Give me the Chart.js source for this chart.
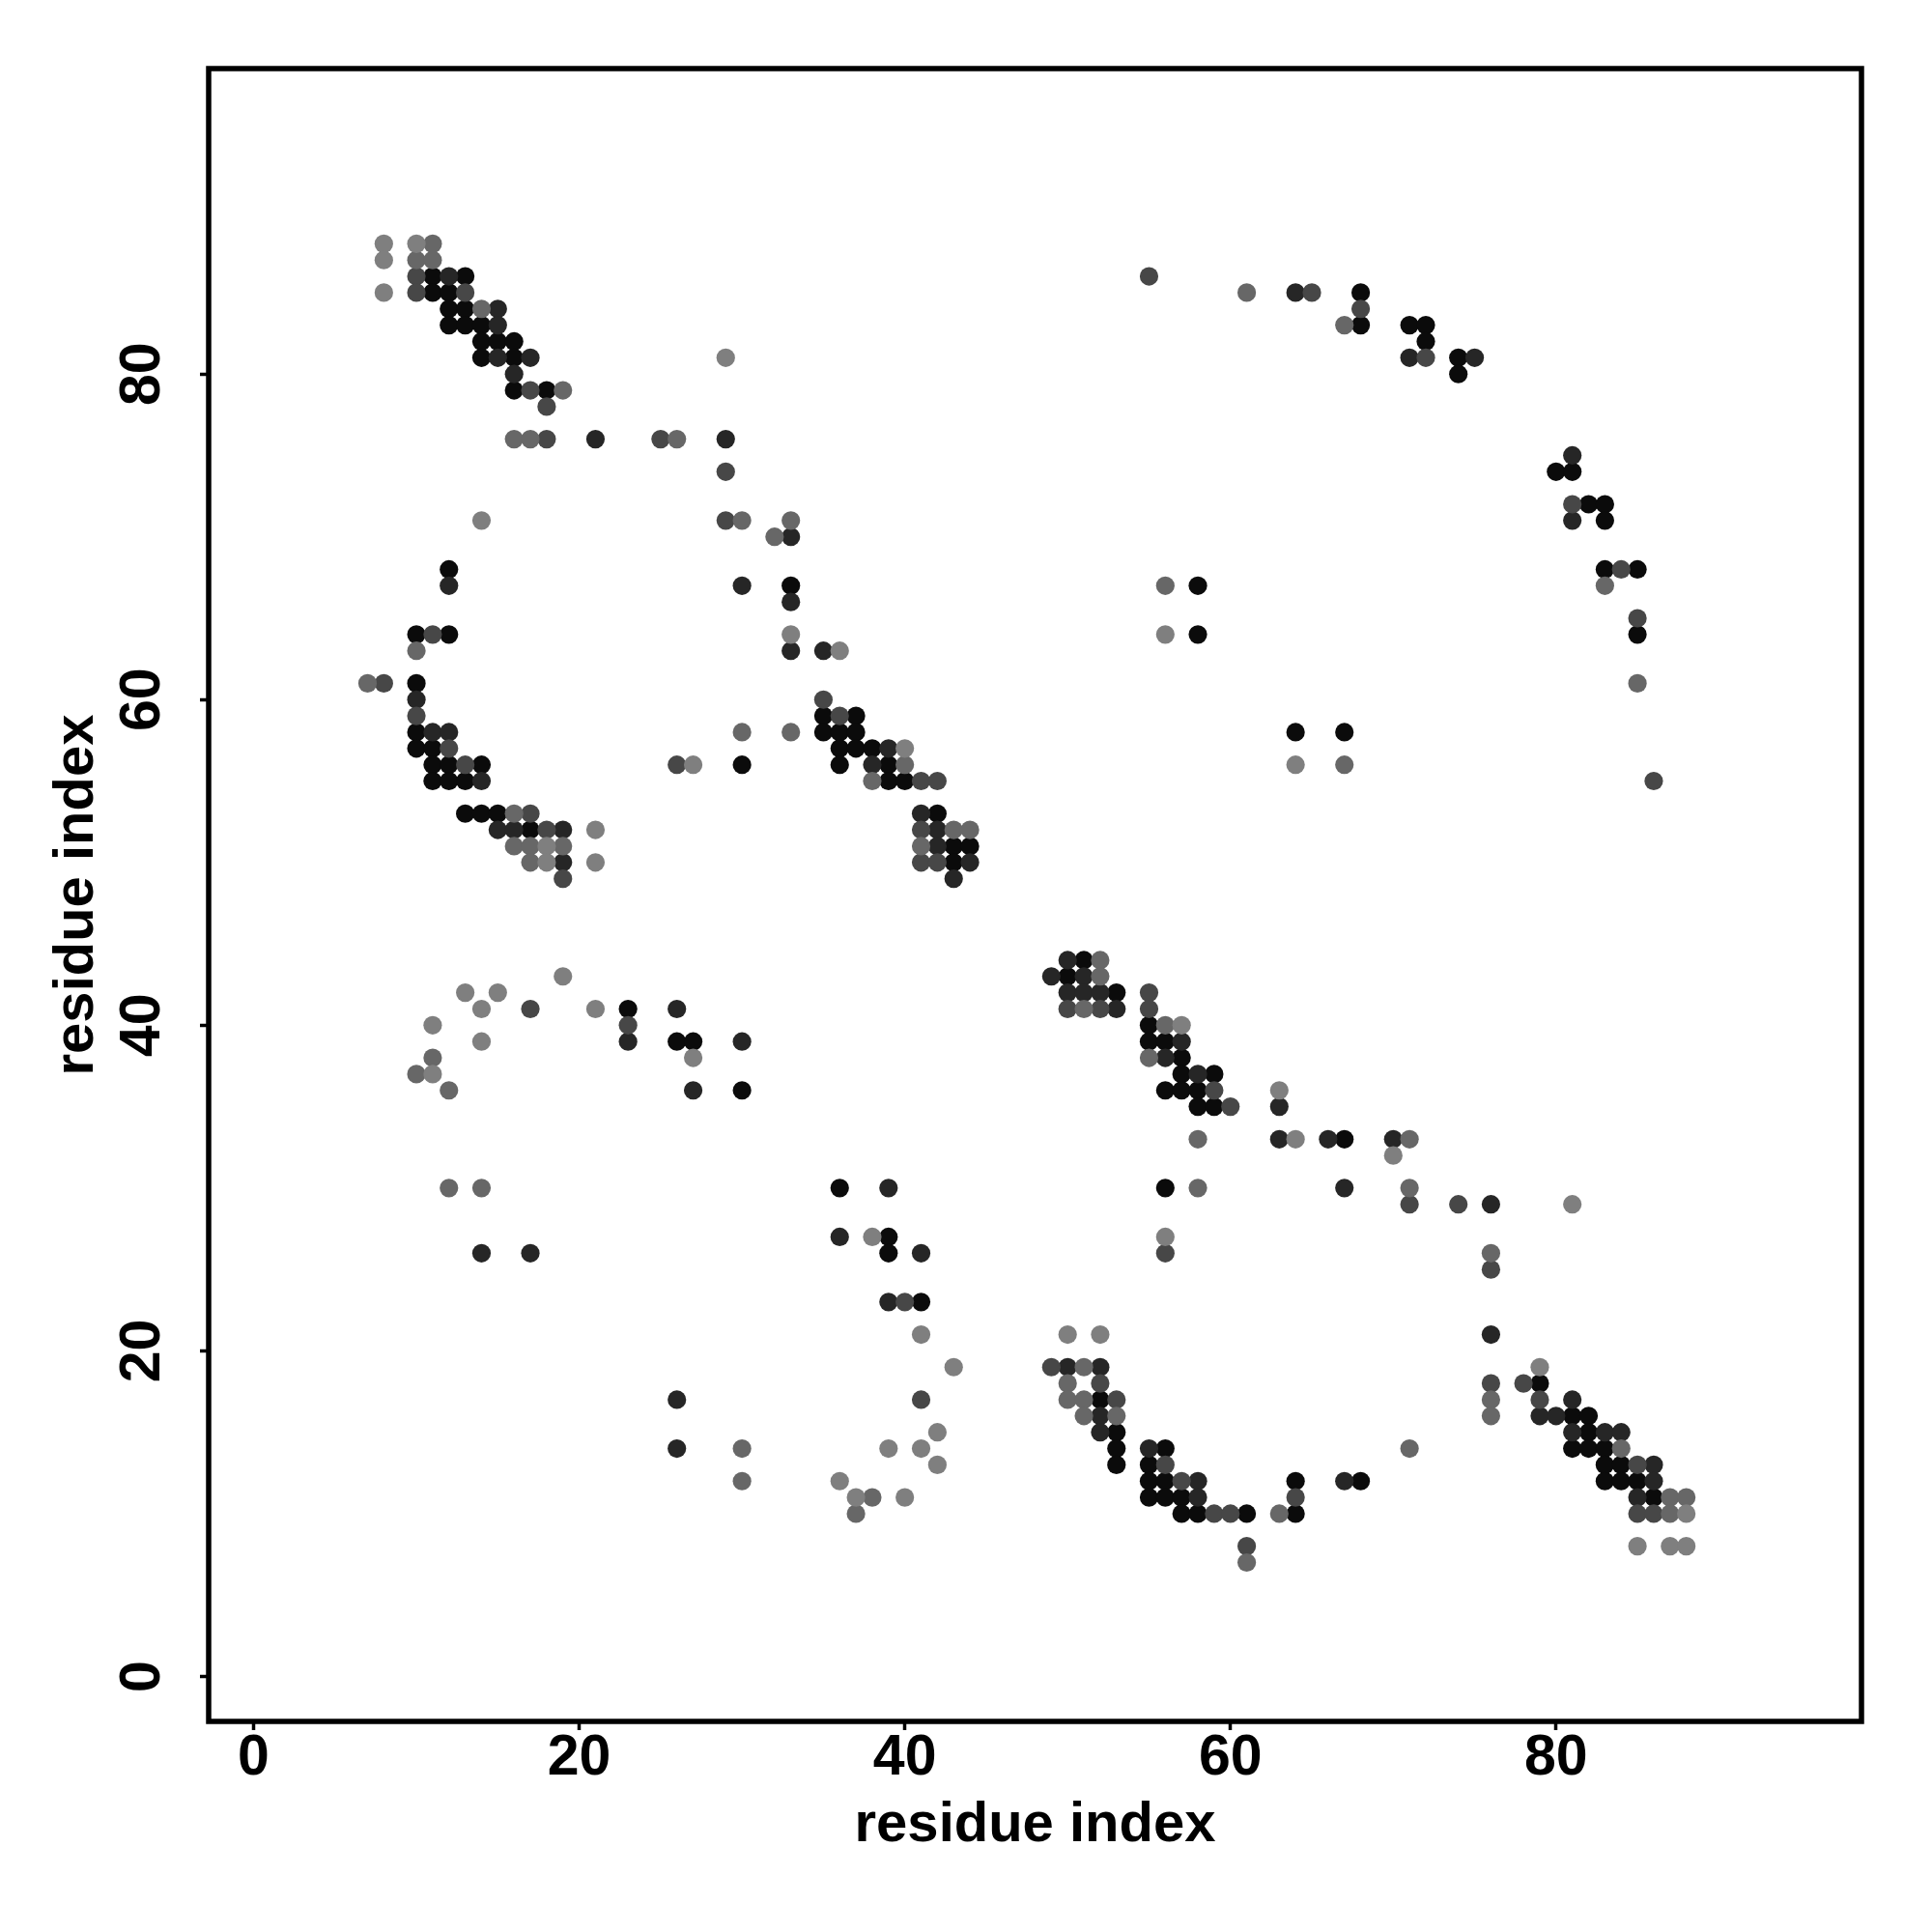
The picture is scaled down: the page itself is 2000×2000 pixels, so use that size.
<!DOCTYPE html>
<html>
<head>
<meta charset="utf-8">
<title>contact map</title>
<script src="https://cdn.jsdelivr.net/npm/chart.js@4.4.0/dist/chart.umd.min.js"></script>
<style>
  html, body { margin: 0; padding: 0; background: #fff; }
  #wrap { width: 2000px; height: 2000px; }
</style>
</head>
<body>
<div id="wrap"><canvas id="contactChart" width="2000" height="2000"></canvas></div>
<script>
// residue pairs [i, j] grouped by shade of the dot
const blackPairs = [
    [11,86],[13,86],[11,85],[12,85],[12,84],[13,84],[12,83],[13,83],[14,83],
    [14,82],[15,82],[16,82],[14,81],[16,81],[16,79],[18,79],[12,68],[33,67],
    [10,64],[12,64],[10,61],[58,67],[58,64],
    [68,85],[68,83],[71,83],[72,83],[72,82],[74,81],[74,80],[80,74],[81,74],
    [82,72],[83,72],[83,71],[83,68],[85,68],[85,64],[64,58],[67,58],
    [10,58],[10,57],[11,57],[11,56],[12,56],[14,56],[30,56],[11,55],[12,55],[13,55],
    [13,53],[14,53],[15,53],[17,52],[23,41],[26,39],[27,39],[30,36],
    [35,59],[37,59],[35,58],[36,58],[37,58],[36,57],[37,57],[38,57],[36,56],[39,56],
    [39,55],[40,55],[42,53],[43,51],[44,51],[43,50],[51,44],[50,43],[53,42],
    [55,40],[55,39],[56,39],[57,38],[57,37],[59,37],[56,36],[57,36],[58,36],[58,35],[59,35],
    [36,30],[56,30],[39,27],[39,26],[41,23],[52,17],[53,15],[53,14],[56,14],[53,13],
    [55,13],[55,12],[56,12],[55,11],[56,11],[57,11],[57,10],[58,10],[61,10],
    [67,33],[79,18],[81,16],[82,16],[82,15],[81,14],[82,14],[83,14],[83,13],[84,13],
    [64,12],[68,12],[83,12],[84,12],[85,12],[86,11],[64,10]
];
const darkPairs = [
    [12,86],[15,84],[15,83],[15,81],[17,81],[16,80],[21,76],[29,76],[33,70],[12,67],
    [30,67],[33,66],[33,63],[35,63],
    [64,85],[71,81],[75,81],[81,75],[81,71],[63,35],
    [10,60],[11,58],[12,58],[14,55],[15,52],[16,52],[19,52],[19,50],[26,41],[23,39],
    [30,39],[27,36],
    [39,57],[38,56],[41,53],[42,52],[42,51],[44,50],[43,49],[50,44],[49,43],[51,43],
    [50,42],[51,42],[52,42],[53,41],[57,39],[56,38],[58,37],
    [14,26],[17,26],[26,17],[26,14],
    [39,30],[36,27],[41,26],[39,23],[50,19],[52,19],[52,16],[52,15],[55,14],[58,12],[58,11],
    [63,33],[66,33],[70,33],[67,30],[76,29],[76,21],[81,17],[79,16],[80,16],[81,15],
    [83,15],[84,15],[86,13],[67,12],[86,12],[85,11]
];
const midPairs = [
    [10,86],[10,85],[13,85],[17,79],[18,78],[18,76],[25,76],[29,74],[29,71],[11,64],[8,61],
    [55,86],[65,85],[68,84],[72,81],[81,72],[84,68],[85,65],[86,55],[60,35],
    [10,59],[12,57],[13,56],[26,56],[17,53],[18,52],[19,49],[17,41],[23,40],
    [35,60],[36,59],[41,55],[42,55],[41,52],[41,50],[42,50],[55,42],[50,41],[52,41],
    [55,41],[59,36],
    [56,26],[40,23],[49,19],[52,18],[41,17],[53,17],[56,13],[57,12],[59,10],[60,10],[61,8],
    [71,29],[74,29],[76,25],[76,18],[78,18],[79,17],[85,13],[64,11],[85,10],[86,10]
];
const lightPairs = [
    [11,88],[10,87],[11,87],[14,84],[19,79],[16,76],[17,76],[26,76],[30,71],[33,71],
    [32,70],[10,63],[7,61],[56,67],[61,85],[67,83],[83,67],[85,61],[67,56],
    [30,58],[33,58],[16,53],[16,51],[17,51],[19,51],[17,50],[11,38],[10,37],[12,36],
    [40,56],[38,55],[43,52],[44,52],[41,51],[52,44],[52,43],[51,41],[56,40],[55,38],
    [12,30],[14,30],[30,14],[30,12],
    [58,33],[58,30],[51,19],[50,18],[50,17],[51,17],[51,16],[53,16],[38,11],[37,10],[61,7],
    [71,33],[71,30],[76,26],[76,17],[76,16],[84,14],[71,14],[87,11],[88,11],[63,10],[87,10]
];
const palePairs = [
    [8,88],[10,88],[8,87],[8,85],[29,81],[14,71],[33,64],[36,63],[56,64],[64,56],[63,36],
    [27,56],[21,52],[18,51],[18,50],[21,50],[19,43],[13,42],[15,42],[14,41],[21,41],
    [11,40],[14,39],[27,38],[11,37],[40,57],[57,40],
    [38,27],[56,27],[41,21],[50,21],[52,21],[43,19],[42,15],[39,14],[41,14],[42,13],
    [36,12],[37,11],[40,11],
    [64,33],[70,32],[81,29],[79,19],[88,10],[85,8],[87,8],[88,8]
];

const tickValues = [0, 20, 40, 60, 80];
const axisMin = -2.76;
const axisMax = 98.76;

const FONT = 'Liberation Sans, Arial, Helvetica, sans-serif';

function toPoints(pairs) {
    return pairs.map(([x, y]) => ({ x: x, y: y }));
}

function dotSet(pairs, color) {
    return {
        data: toPoints(pairs),
        backgroundColor: color,
        borderWidth: 0,
        pointRadius: 9.6,
        pointHoverRadius: 9.6
    };
}

// black frame round the plot region, like R's box()
const framePlugin = {
    id: 'frame',
    afterDraw(chart) {
        const { ctx, chartArea: a } = chart;
        ctx.save();
        ctx.lineWidth = 5.5;
        ctx.strokeStyle = '#000';
        ctx.strokeRect(a.left, a.top, a.right - a.left, a.bottom - a.top);
        ctx.restore();
    }
};

const tickFont = { family: FONT, size: 59, weight: 'bold', lineHeight: 1 };
const titleFont = { family: FONT, size: 58, weight: 'bold', lineHeight: 1.2 };
const tickGrid = { drawOnChartArea: false, drawTicks: true, tickLength: 9, tickWidth: 3.5, tickColor: '#000' };

new Chart(document.getElementById('contactChart').getContext('2d'), {
    type: 'scatter',
    data: {
        datasets: [
            dotSet(palePairs, '#7f7f7f'),
            dotSet(lightPairs, '#676767'),
            dotSet(midPairs, '#474747'),
            dotSet(darkPairs, '#262626'),
            dotSet(blackPairs, '#0b0b0b')
        ]
    },
    options: {
        responsive: false,
        animation: false,
        devicePixelRatio: 1,
        layout: { padding: { left: 0, top: 71, right: 73, bottom: 0 } },
        plugins: {
            legend: { display: false },
            tooltip: { enabled: false }
        },
        scales: {
            x: {
                type: 'linear',
                min: axisMin,
                max: axisMax,
                afterBuildTicks: s => { s.ticks = tickValues.map(v => ({ value: v })); },
                afterFit: s => { s.height = 218; },
                border: { display: false },
                grid: tickGrid,
                ticks: { color: '#000', font: tickFont, padding: 0, maxRotation: 0 },
                title: {
                    display: true, text: 'residue index', color: '#000',
                    font: titleFont, padding: { top: 0, bottom: 75 }
                }
            },
            y: {
                type: 'linear',
                min: axisMin,
                max: axisMax,
                afterBuildTicks: s => { s.ticks = tickValues.map(v => ({ value: v })); },
                afterFit: s => { s.width = 216; },
                border: { display: false },
                grid: tickGrid,
                ticks: {
                    color: '#000', font: tickFont, padding: 25,
                    minRotation: 90, maxRotation: 90, crossAlign: 'center'
                },
                title: {
                    display: true, text: 'residue index', color: '#000',
                    font: titleFont, padding: { top: 45, bottom: 0 }
                }
            }
        }
    },
    plugins: [framePlugin]
});
</script>
</body>
</html>
